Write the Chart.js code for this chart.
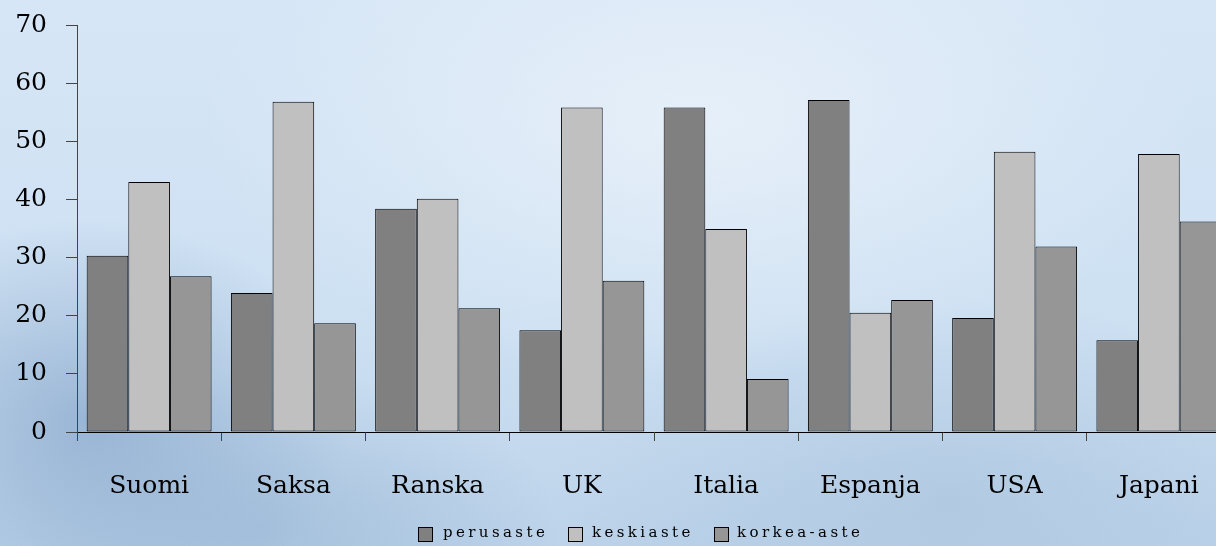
<!DOCTYPE html>
<html lang="fi">
<head>
    <meta charset="UTF-8">
    <title>Koulutustaso</title>
    <script src="https://cdn.jsdelivr.net/npm/chart.js"></script>
    <style>
        html, body {
            margin: 0;
            padding: 0;
            overflow: hidden;
        }

        /* frosty blue backdrop */
        .frame {
            position: relative;
            width: 1216px;
            height: 546px;
            overflow: hidden;
            background:
                radial-gradient(ellipse 260px 200px at 90px 420px, rgba(140, 170, 205, 0.75), rgba(140, 170, 205, 0) 100%),
                radial-gradient(ellipse 300px 160px at 260px 530px, rgba(150, 180, 210, 0.6), rgba(150, 180, 210, 0) 100%),
                radial-gradient(ellipse 400px 200px at 950px 500px, rgba(160, 188, 215, 0.45), rgba(160, 188, 215, 0) 100%),
                radial-gradient(ellipse 500px 260px at 700px 120px, rgba(235, 242, 250, 0.8), rgba(235, 242, 250, 0) 100%),
                linear-gradient(180deg, #d6e6f6 0%, #cde0f2 60%, #bcd3ea 100%);
        }

        .chart-box {
            position: absolute;
            left: 0;
            top: 0;
            width: 1232px;
            height: 546px;
        }

        /* legend along the bottom */
        .legend span {
            position: absolute;
            font-family: "DejaVu Serif", serif;
            font-size: 15px;
            letter-spacing: 3.4px;
            color: #000;
            top: 523px;
        }

        .legend i {
            position: absolute;
            top: 527px;
            width: 13px;
            height: 13px;
            border: 1px solid #000;
        }
    </style>
</head>
<body>
    <div class="frame">
        <div class="chart-box">
            <canvas id="levels"></canvas>
        </div>
        <div class="legend" id="legend"></div>
    </div>

    <script>
        const countries = ['Suomi', 'Saksa', 'Ranska', 'UK', 'Italia', 'Espanja', 'USA', 'Japani'];
        const seriesNames = ['perusaste', 'keskiaste', 'korkea-aste'];

        const perusaste = [30.3, 23.9, 38.4, 17.5, 55.8, 57.1, 19.6, 15.8];
        const keskiaste = [43.0, 56.8, 40.1, 55.8, 34.9, 20.5, 48.2, 47.8];
        const korkeaAste = [26.8, 18.7, 21.3, 26.0, 9.1, 22.7, 31.9, 36.2];

        const yTicks = [0, 10, 20, 30, 40, 50, 60, 70];

        const fills = ['#808080', '#c0c0c0', '#969696'];
        const serif = '"DejaVu Serif", serif';

        const values = [perusaste, keskiaste, korkeaAste];
        const datasets = seriesNames.map((name, i) => ({
            label: name,
            data: values[i],
            backgroundColor: fills[i],
            borderColor: '#000',
            borderWidth: 1,
            borderSkipped: false,
            categoryPercentage: 0.866,
            barPercentage: 1.0
        }));

        const ctx = document.getElementById('levels').getContext('2d');
        const chart = new Chart(ctx, {
            type: 'bar',
            data: { labels: countries, datasets: datasets },
            options: {
                responsive: true,
                maintainAspectRatio: false,
                animation: false,
                layout: { padding: { top: 25, right: 1, left: 0, bottom: 0 } },
                plugins: {
                    legend: { display: false },
                    tooltip: { enabled: false }
                },
                scales: {
                    x: {
                        grid: {
                            display: true,
                            drawOnChartArea: false,
                            tickLength: 9,
                            color: '#444',
                            offset: true
                        },
                        border: { display: true, color: '#000', width: 1 },
                        ticks: {
                            color: '#000',
                            padding: 30,
                            maxRotation: 0,
                            font: { family: serif, size: 25 }
                        },
                        afterFit: function (scale) {
                            scale.height = 114;
                            scale.paddingLeft = 0;
                            scale.paddingRight = 0;
                        }
                    },
                    y: {
                        min: 0,
                        max: 70,
                        afterBuildTicks: function (scale) {
                            scale.ticks = yTicks.map(v => ({ value: v }));
                        },
                        grid: {
                            display: true,
                            drawOnChartArea: false,
                            tickLength: 11,
                            color: '#444'
                        },
                        border: { display: true, color: '#444', width: 1 },
                        ticks: {
                            color: '#000',
                            padding: 19,
                            font: { family: serif, size: 25 }
                        },
                        afterFit: function (scale) {
                            scale.width = 77;
                            scale.paddingTop = 0;
                            scale.paddingBottom = 0;
                        }
                    }
                }
            }
        });

        // legend drawn as text beneath the plot
        const legendSpots = [[418, 443], [568, 592], [714, 737]];
        const legend = document.getElementById('legend');
        seriesNames.forEach((name, i) => {
            const box = document.createElement('i');
            box.style.left = legendSpots[i][0] + 'px';
            box.style.background = fills[i];
            const txt = document.createElement('span');
            txt.style.left = legendSpots[i][1] + 'px';
            txt.textContent = name;
            legend.appendChild(box);
            legend.appendChild(txt);
        });
    </script>
</body>
</html>
